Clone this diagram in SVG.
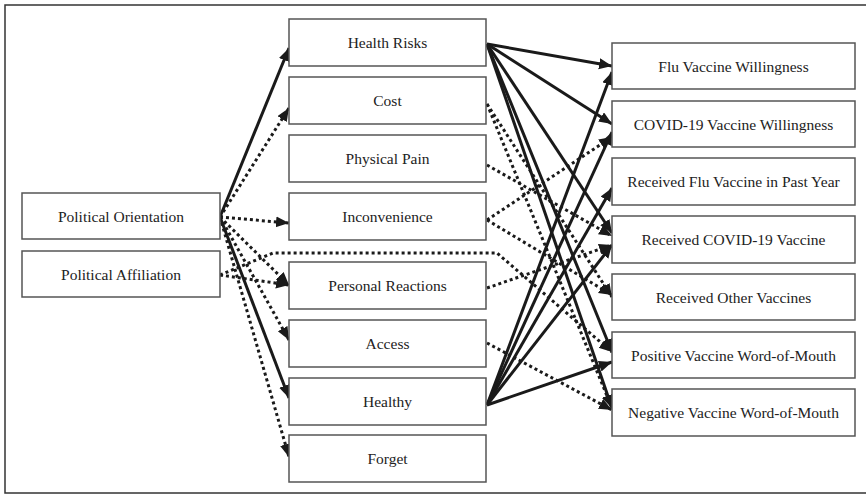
<svg xmlns="http://www.w3.org/2000/svg" width="866" height="498" viewBox="0 0 866 498">
<style>
.box{fill:#fff;stroke:#555;stroke-width:1.5}
.t{font-family:"Liberation Serif","Times New Roman",serif;font-size:15.5px;fill:#222;text-anchor:middle;dominant-baseline:central}
.s{fill:none;stroke:#1a1a1a;stroke-width:3;marker-end:url(#ah)}
.d{fill:none;stroke:#1a1a1a;stroke-width:3;stroke-dasharray:3 3;marker-end:url(#ah)}
</style>
<defs>
<marker id="ah" markerUnits="userSpaceOnUse" markerWidth="16" markerHeight="14" refX="13" refY="5.5" orient="auto">
<path d="M0,0 L13,5.5 L0,11 z" fill="#1a1a1a"/>
</marker>
</defs>
<rect x="5" y="5" width="862" height="488" fill="#fff" stroke="#333" stroke-width="1.5"/>
<g id="connectors">
<line class="s" x1="220" y1="217" x2="289" y2="48"/>
<line class="d" x1="220" y1="217" x2="289" y2="108"/>
<line class="d" x1="220" y1="217" x2="289" y2="223"/>
<line class="d" x1="220" y1="217" x2="289" y2="285"/>
<line class="d" x1="220" y1="217" x2="289" y2="340"/>
<line class="s" x1="220" y1="217" x2="289" y2="398"/>
<line class="d" x1="220" y1="217" x2="289" y2="457"/>
<line class="d" x1="220" y1="275" x2="289" y2="285"/>
<polyline class="d" points="220,275 273,253 497,253 612,352"/>
<line class="s" x1="487" y1="44" x2="612" y2="66"/>
<line class="s" x1="487" y1="44" x2="612" y2="124"/>
<line class="s" x1="487" y1="44" x2="612" y2="233"/>
<line class="s" x1="487" y1="44" x2="612" y2="352"/>
<line class="s" x1="487" y1="44" x2="612" y2="408"/>
<line class="d" x1="487" y1="104" x2="612" y2="297"/>
<line class="d" x1="487" y1="104" x2="612" y2="408"/>
<line class="d" x1="487" y1="165" x2="612" y2="236"/>
<line class="d" x1="487" y1="220" x2="612" y2="137"/>
<line class="d" x1="487" y1="220" x2="612" y2="295"/>
<line class="d" x1="487" y1="288" x2="612" y2="245"/>
<line class="d" x1="487" y1="343" x2="612" y2="410"/>
<line class="s" x1="487" y1="405" x2="612" y2="72"/>
<line class="s" x1="487" y1="405" x2="612" y2="132"/>
<line class="s" x1="487" y1="405" x2="612" y2="188"/>
<line class="s" x1="487" y1="405" x2="612" y2="245"/>
<line class="s" x1="487" y1="405" x2="612" y2="362"/>
</g>
<g id="n-po"><rect class="box" x="22" y="193" width="198" height="46"/><text class="t" x="121" y="216">Political Orientation</text></g>
<g id="n-pa"><rect class="box" x="22" y="251" width="198" height="46"/><text class="t" x="121" y="274">Political Affiliation</text></g>
<g id="n-hr"><rect class="box" x="289" y="19" width="197" height="47"/><text class="t" x="387.5" y="42.5">Health Risks</text></g>
<g id="n-cost"><rect class="box" x="289" y="77" width="197" height="47"/><text class="t" x="387.5" y="100.5">Cost</text></g>
<g id="n-pp"><rect class="box" x="289" y="135" width="197" height="47"/><text class="t" x="387.5" y="158.5">Physical Pain</text></g>
<g id="n-inc"><rect class="box" x="289" y="193" width="197" height="47"/><text class="t" x="387.5" y="216.5">Inconvenience</text></g>
<g id="n-pr"><rect class="box" x="289" y="262" width="197" height="47"/><text class="t" x="387.5" y="285.5">Personal Reactions</text></g>
<g id="n-acc"><rect class="box" x="289" y="320" width="197" height="47"/><text class="t" x="387.5" y="343.5">Access</text></g>
<g id="n-hea"><rect class="box" x="289" y="378" width="197" height="47"/><text class="t" x="387.5" y="401.5">Healthy</text></g>
<g id="n-for"><rect class="box" x="289" y="435" width="197" height="47"/><text class="t" x="387.5" y="458.5">Forget</text></g>
<g id="n-fvw"><rect class="box" x="612" y="43" width="243" height="46"/><text class="t" x="733.5" y="66">Flu Vaccine Willingness</text></g>
<g id="n-cvw"><rect class="box" x="612" y="101" width="243" height="46"/><text class="t" x="733.5" y="124">COVID-19 Vaccine Willingness</text></g>
<g id="n-rfv"><rect class="box" x="612" y="158" width="243" height="47"/><text class="t" x="733.5" y="181.5">Received Flu Vaccine in Past Year</text></g>
<g id="n-rcv"><rect class="box" x="612" y="216" width="243" height="47"/><text class="t" x="733.5" y="239.5">Received COVID-19 Vaccine</text></g>
<g id="n-rov"><rect class="box" x="612" y="274" width="243" height="46"/><text class="t" x="733.5" y="297">Received Other Vaccines</text></g>
<g id="n-pos"><rect class="box" x="612" y="332" width="243" height="46"/><text class="t" x="733.5" y="355">Positive Vaccine Word-of-Mouth</text></g>
<g id="n-neg"><rect class="box" x="612" y="389" width="243" height="47"/><text class="t" x="733.5" y="412.5">Negative Vaccine Word-of-Mouth</text></g>
</svg>
